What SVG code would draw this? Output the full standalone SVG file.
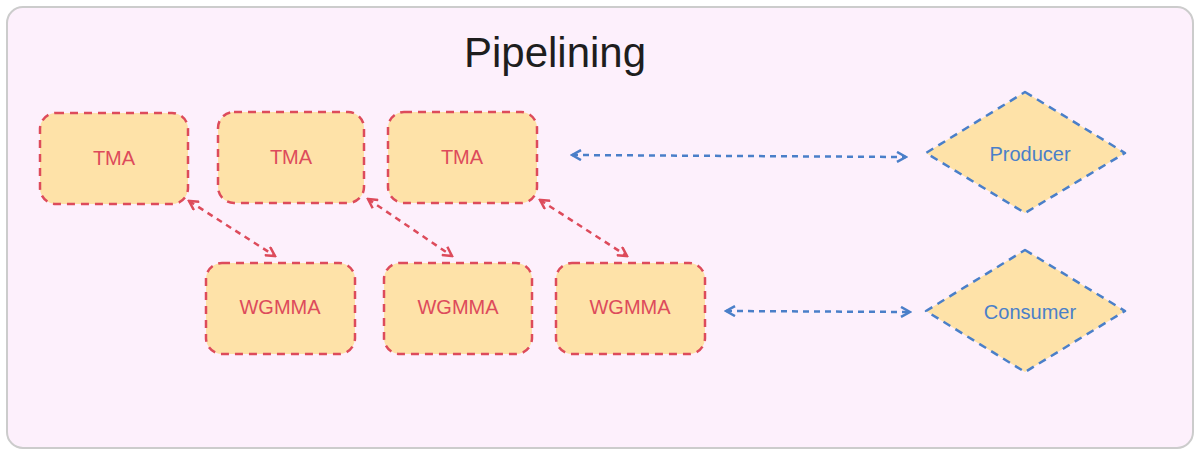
<svg xmlns="http://www.w3.org/2000/svg" width="1200" height="455" viewBox="0 0 1200 455">
<style>
.box{fill:#fee2a8;stroke:#dd4b5b;stroke-width:2.5;stroke-dasharray:8 6}
.dia{fill:#fee2a8;stroke:#4a7fc9;stroke-width:2.5;stroke-dasharray:8 6;stroke-linejoin:round}
.rt{font-family:"Comic Sans MS","Liberation Sans",sans-serif;font-size:20px;fill:#dd4b5b;text-anchor:middle;dominant-baseline:central}
.bt{font-family:"Comic Sans MS","Liberation Sans",sans-serif;font-size:20px;fill:#4a7fc9;text-anchor:middle;dominant-baseline:central}
.ra{stroke:#dd4b5b;stroke-width:2.5;stroke-dasharray:6 5;fill:none;marker-start:url(#rs);marker-end:url(#re)}
.ba{stroke:#4a7fc9;stroke-width:2.5;stroke-dasharray:6 5;fill:none;marker-start:url(#bs);marker-end:url(#be)}
</style>
<defs>
<marker id="re" markerWidth="12" markerHeight="12" refX="10" refY="6" orient="auto" markerUnits="userSpaceOnUse"><path d="M1,1 L10,6 L1,11" fill="none" stroke="#dd4b5b" stroke-width="2.5"/></marker>
<marker id="rs" markerWidth="12" markerHeight="12" refX="2" refY="6" orient="auto" markerUnits="userSpaceOnUse"><path d="M11,1 L2,6 L11,11" fill="none" stroke="#dd4b5b" stroke-width="2.5"/></marker>
<marker id="be" markerWidth="12" markerHeight="12" refX="10" refY="6" orient="auto" markerUnits="userSpaceOnUse"><path d="M1,1 L10,6 L1,11" fill="none" stroke="#4a7fc9" stroke-width="2.5"/></marker>
<marker id="bs" markerWidth="12" markerHeight="12" refX="2" refY="6" orient="auto" markerUnits="userSpaceOnUse"><path d="M11,1 L2,6 L11,11" fill="none" stroke="#4a7fc9" stroke-width="2.5"/></marker>
</defs>
<rect x="7" y="7" width="1186" height="441" rx="16" fill="#fdf0fc" stroke="#cccccc" stroke-width="2"/>
<text x="555" y="52" font-family="Comic Sans MS,Liberation Sans,sans-serif" font-size="42" fill="#1e1e1e" text-anchor="middle" dominant-baseline="central">Pipelining</text>
<g id="tma1"><rect class="box" x="40" y="113" width="148" height="91" rx="16"/><text class="rt" x="114" y="158">TMA</text></g>
<g id="tma2"><rect class="box" x="218" y="112" width="146" height="91" rx="16"/><text class="rt" x="291" y="157">TMA</text></g>
<g id="tma3"><rect class="box" x="388" y="112" width="149" height="91" rx="16"/><text class="rt" x="462" y="157">TMA</text></g>
<g id="wg1"><rect class="box" x="206" y="263" width="149" height="91" rx="16"/><text class="rt" x="280" y="307">WGMMA</text></g>
<g id="wg2"><rect class="box" x="384" y="263" width="148" height="91" rx="16"/><text class="rt" x="458" y="307">WGMMA</text></g>
<g id="wg3"><rect class="box" x="556" y="263" width="149" height="91" rx="16"/><text class="rt" x="630" y="307">WGMMA</text></g>
<g id="producer"><path class="dia" d="M1025,92 L1125,153 L1025,213 L926,153 Z"/><text class="bt" x="1030" y="154">Producer</text></g>
<g id="consumer"><path class="dia" d="M1025,250 L1125,311 L1025,372 L926,311 Z"/><text class="bt" x="1030" y="312">Consumer</text></g>
<g id="connectors">
<line class="ra" x1="189" y1="201" x2="275" y2="256"/>
<line class="ra" x1="368" y1="199" x2="452" y2="256"/>
<line class="ra" x1="540" y1="200" x2="627" y2="256"/>
<line class="ba" x1="572" y1="155" x2="906" y2="157"/>
<line class="ba" x1="726" y1="311" x2="910" y2="312"/>
</g>
</svg>
